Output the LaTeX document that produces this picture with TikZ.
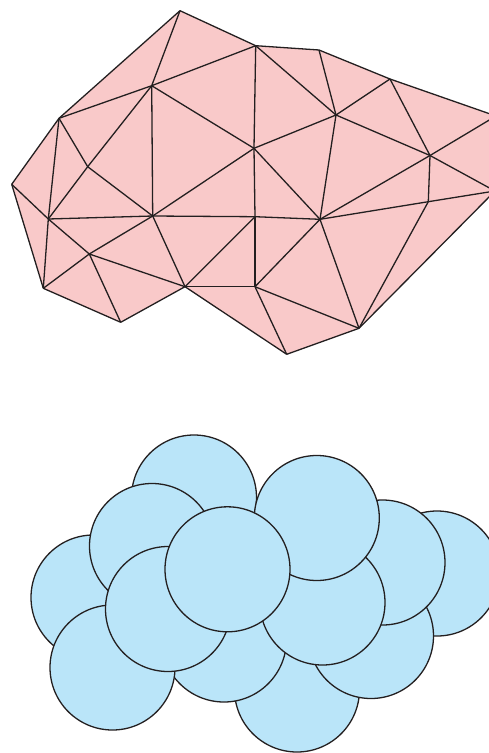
\documentclass[tikz,border=0pt]{standalone}
\definecolor{meshpink}{HTML}{F9C9C9}
\definecolor{discblue}{HTML}{BAE5F9}
\definecolor{inkline}{HTML}{231F20}
\begin{document}
\begin{tikzpicture}[x=1pt,y=-1pt,
  edge/.style={draw=inkline,line width=1.3pt,line join=round},
  disc/.style={fill=discblue,draw=inkline,line width=1.3pt}]
\useasboundingbox (0,0) rectangle (489,753);
\clip (0,0) rectangle (489,753);
% mesh vertices
\coordinate (A) at (180,10.7);
\coordinate (B) at (151.7,85.7);
\coordinate (C) at (59,118.3);
\coordinate (D) at (87.7,166.7);
\coordinate (E) at (255.7,45.7);
\coordinate (F) at (319,50);
\coordinate (G) at (390,79);
\coordinate (H) at (336,115);
\coordinate (I) at (254,148.3);
\coordinate (J) at (430,155.5);
\coordinate (K) at (496,116);
\coordinate (L) at (495,191);
\coordinate (M) at (428.3,201.7);
\coordinate (N) at (320,219.3);
\coordinate (O) at (255,216.7);
\coordinate (P) at (255,286.7);
\coordinate (Q) at (359,328.3);
\coordinate (R) at (286.7,354.3);
\coordinate (S) at (11.7,184.3);
\coordinate (T) at (48.3,219);
\coordinate (U) at (152.7,216);
\coordinate (V) at (89.3,254);
\coordinate (W) at (43.3,288.3);
\coordinate (X) at (120.7,322.3);
\coordinate (Y) at (185,286.7);
% fill
\fill[meshpink] (A) -- (E) -- (F) -- (G) -- (K) -- (L) -- (Q) -- (R) -- (Y) -- (X) -- (W) -- (S) -- (C) -- cycle;
% edges
\foreach \p/\q in {A/E,E/F,F/G,G/K,K/L,L/Q,Q/R,R/Y,Y/X,X/W,W/S,S/C,C/A,
  A/B,B/C,B/E,B/D,B/U,B/I,C/D,C/T,D/T,D/U,U/I,
  E/I,E/H,F/H,G/H,G/J,H/I,H/J,H/N,J/K,J/M,J/L,I/N,I/O,N/J,
  N/M,M/L,M/Q,N/Q,N/P,N/O,O/P,O/U,P/Q,P/R,Y/P,Y/O,
  S/T,T/U,T/V,T/W,V/U,V/W,V/X,V/Y,U/Y}
  \draw[edge] (\p) -- (\q);
% discs, back to front
\coordinate (c1) at (194,497.5);
\coordinate (c12) at (437,573.5);
\coordinate (c8) at (297,689.5);
\coordinate (c7) at (224,639.5);
\coordinate (c13) at (371,636);
\coordinate (c11) at (382.5,562.5);
\coordinate (c10) at (322.5,602.5);
\coordinate (c9) at (316.8,518);
\coordinate (c3) at (93.5,597.5);
\coordinate (c4) at (112.5,667.5);
\coordinate (c2) at (152,546);
\coordinate (c5) at (168,609);
\coordinate (c6) at (227.5,569.3);
\foreach \c in {c1,c12,c8,c7,c13,c11,c10,c9,c3,c4,c2,c5,c6}
  \draw[disc] (\c) circle (62.5);
\end{tikzpicture}
\end{document}
